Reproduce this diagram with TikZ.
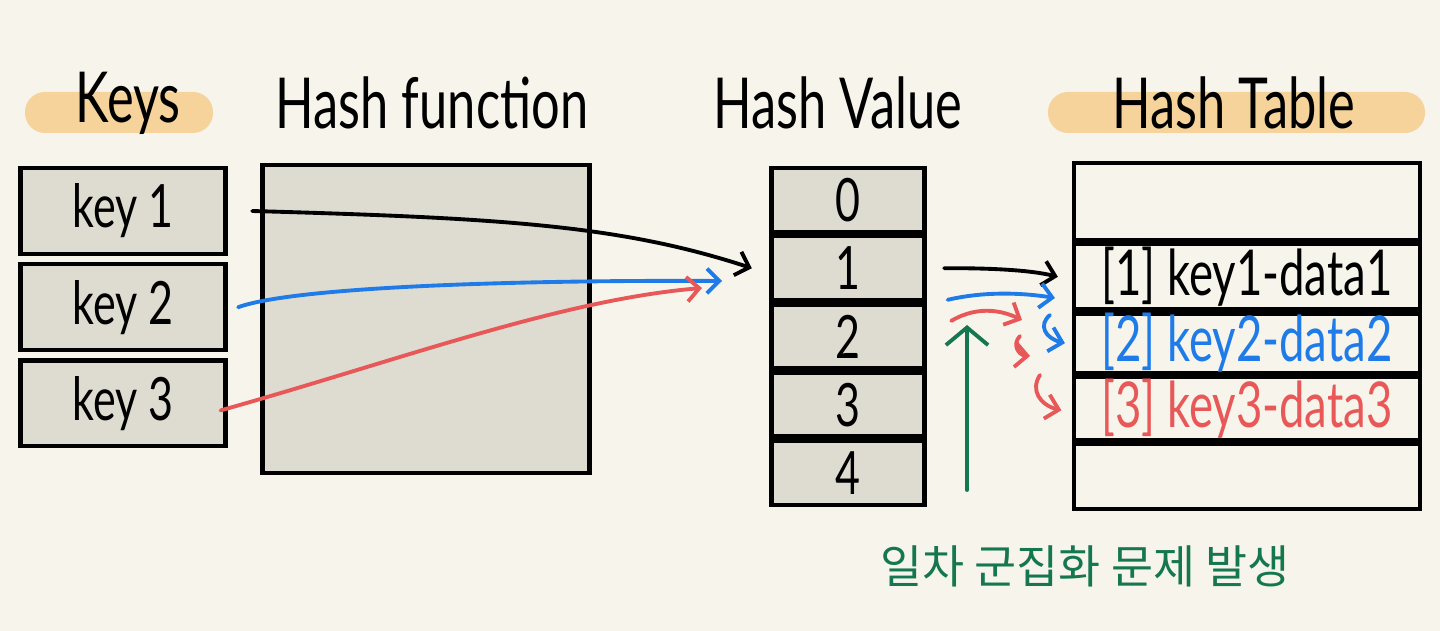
\documentclass[tikz,border=0pt]{standalone}
\usepackage{fontspec}
\setmainfont[FakeStretch=0.72]{Lato}
\newfontfamily\krfont{Noto Sans CJK KR}
\usetikzlibrary{arrows.meta, positioning}

\definecolor{paper}{HTML}{F7F5EB}
\definecolor{boxgray}{HTML}{DEDCD0}
\definecolor{pill}{HTML}{F5D39A}
\definecolor{hblue}{HTML}{1F7BE8}
\definecolor{hred}{HTML}{E85858}
\definecolor{hgreen}{HTML}{15774F}

\begin{document}
\begin{tikzpicture}[x=0.02cm, y=-0.02cm, line width=2.4pt,
    every node/.style={font=\fontsize{34}{40}\selectfont},
    title/.style={font=\fontsize{40}{46}\selectfont},
    keybox/.style={rectangle, draw, fill=boxgray, minimum width=4.1cm, minimum height=1.72cm},
    cell/.style={rectangle, draw, fill=boxgray, minimum width=3.06cm, minimum height=1.28cm, inner sep=0pt},
    row/.style={rectangle, draw, minimum width=6.92cm, inner sep=0pt, anchor=north, font=\fontsize{36}{40}\selectfont},
    link/.style={-{Straight Barb[length=7pt, width=14pt]}, line width=2.2pt, line cap=round}]
    \fill[paper] (0,0) rectangle (1440,631);
    \useasboundingbox (0,0) rectangle (1440,631);
    % titles
    \fill[pill, rounded corners=0.4cm] (25,92) rectangle (213,133);
    \fill[pill, rounded corners=0.4cm] (1048,92) rectangle (1425,133);
    \node[title] (tkeys) at (128,103) {Keys};
    \node[title] (thf) at (432,103) {Hash function};
    \node[title] (thv) at (838,103) {Hash Value};
    \node[title] (tht) at (1234,103) {Hash Table};
    % keys
    \node[keybox] (k1) at (123,211) {key 1};
    \node[keybox, below=0.12cm of k1] (k2) {key 2};
    \node[keybox, below=0.12cm of k2] (k3) {key 3};
    % hash function
    \node[rectangle, draw, fill=boxgray, minimum width=6.54cm, minimum height=6.16cm] (hf) at (426,319) {};
    % hash values
    \node[cell] (hv0) at (848,200) {0};
    \foreach \i [count=\j from 0] in {1,...,4}
        \node[cell, below=0pt of hv\j] (hv\i) {\i};
    % hash table
    \node[row, minimum height=1.54cm] (t0) at (1247,161) {};
    \node[row, minimum height=1.3cm, below=0pt of t0, anchor=north] (t1) {[1] key1-data1};
    \node[row, minimum height=1.12cm, below=0pt of t1, anchor=north, text=hblue] (t2) {[2] key2-data2};
    \node[row, minimum height=1.26cm, below=0pt of t2, anchor=north, text=hred] (t3) {[3] key3-data3};
    \node[row, minimum height=1.3cm, below=0pt of t3, anchor=north] (t4) {};
    % key -> hash value
    \draw[link] ([xshift=14pt]k1.east) .. controls (500,218) and (620,225) .. ([xshift=-10pt]hv1.west);
    \draw[link, hblue] ([xshift=6pt]k2.east) .. controls (300,285) and (550,280) .. (722,281);
    \draw[link, hred] ([xshift=-4pt, yshift=-4pt]k3.east) .. controls (400,360) and (560,300) .. (702,288);
    % hash value -> table
    \draw[link] ([xshift=10pt]hv1.east) .. controls (990,268) and (1030,270) .. ([xshift=-8pt]t1.west);
    \draw[link, hblue] ([xshift=12pt, yshift=-18pt]hv1.east) .. controls (990,290) and (1030,294) .. (1055,298);
    \draw[link, hred] ([xshift=14pt, yshift=-30pt]hv1.east) .. controls (980,304) and (1005,312) .. (1022,320);
    \draw[link, hblue] (1050,315) .. controls (1038,325) and (1045,338) .. ([xshift=-4pt]t2.west);
    \draw[link, hred] (1020,336) .. controls (1012,344) and (1018,355) .. (1030,356);
    \draw[link, hred] (1040,375) .. controls (1030,390) and (1040,405) .. ([xshift=-6pt, yshift=-1pt]t3.west);
    % note
    \node[text=hgreen, font=\krfont\fontsize{26}{30}\selectfont] (note) at (1085,566) {일차 군집화 문제 발생};
    \coordinate (clash) at (967,325);
    \draw[link, hgreen, -{Straight Barb[length=10pt, width=24pt]}] (967,490) -- (clash);
\end{tikzpicture}
\end{document}
